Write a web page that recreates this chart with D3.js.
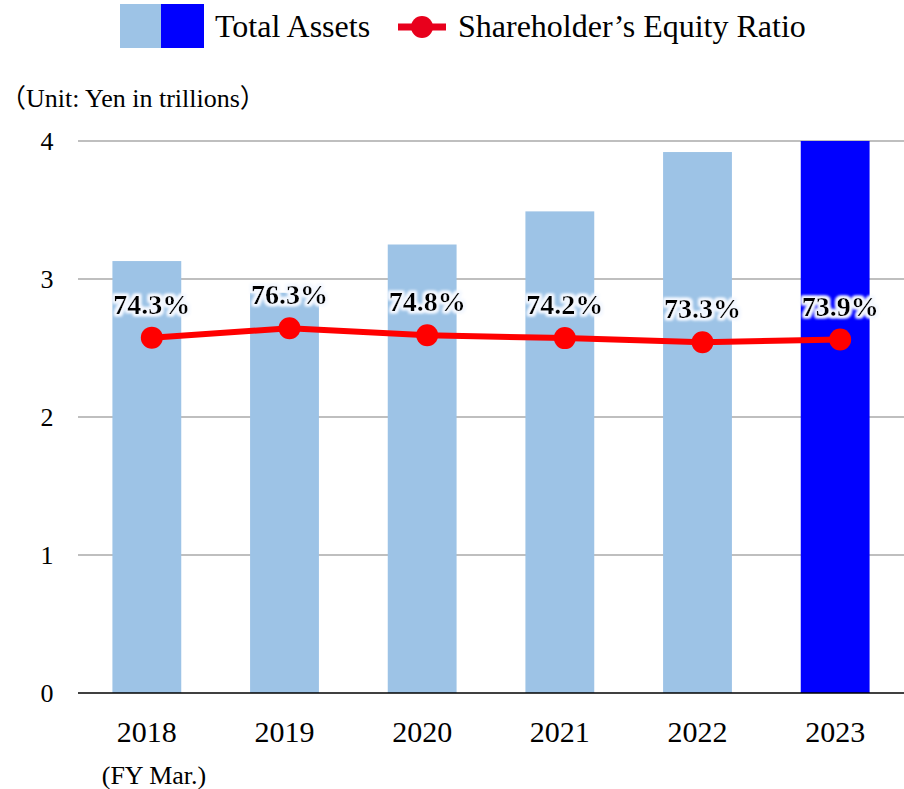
<!DOCTYPE html>
<html>
<head>
<meta charset="utf-8">
<script src="https://cdn.jsdelivr.net/npm/d3@7"></script>
<style>
  body { margin: 0; background: #fff; }
  svg { display: block; font-family: "Liberation Serif", "Times New Roman", serif; }
</style>
</head>
<body>
<div id="chart"></div>
<script>
var years = ["2018", "2019", "2020", "2021", "2022", "2023"];
var totalAssets = [3.13, 2.9, 3.25, 3.49, 3.92, 4.0];
var equityRatio = [74.3, 76.3, 74.8, 74.2, 73.3, 73.9];
var yTicks = [0, 1, 2, 3, 4];

var width = 904, height = 789;
var plotLeft = 78, plotRight = 904, plotTop = 141, plotBottom = 693;
var lineShift = 5; // the line sits a little right of the bar centres

var svg = d3.select("#chart").append("svg")
    .attr("width", width)
    .attr("height", height);

// white halo behind the ratio labels
var defs = svg.append("defs");
var glow = defs.append("filter").attr("id", "glow")
    .attr("x", "-20%").attr("y", "-30%").attr("width", "140%").attr("height", "160%");
glow.append("feMorphology").attr("in", "SourceAlpha").attr("operator", "dilate").attr("radius", 1.5).attr("result", "thick");
glow.append("feGaussianBlur").attr("in", "thick").attr("stdDeviation", 1.8).attr("result", "blur");
glow.append("feFlood").attr("flood-color", "#f4f8ff").attr("flood-opacity", 1);
glow.append("feComposite").attr("in2", "blur").attr("operator", "in").attr("result", "halo");
var merge = glow.append("feMerge");
merge.append("feMergeNode").attr("in", "halo");
merge.append("feMergeNode").attr("in", "halo");
merge.append("feMergeNode").attr("in", "SourceGraphic");

var x = d3.scaleBand()
    .domain(years)
    .range([plotLeft, plotRight])
    .paddingInner(0.5)
    .paddingOuter(0.25);

var y = d3.scaleLinear().domain([0, 4]).range([plotBottom, plotTop]);
// secondary (hidden) axis for the ratio
var y2 = d3.scaleLinear().domain([0, 100]).range([684.4, 217.7]);

// gridlines
svg.append("g").selectAll("line")
    .data(yTicks.filter(function(d) { return d > 0; }))
    .enter().append("line")
    .attr("x1", plotLeft).attr("x2", plotRight)
    .attr("y1", function(d) { return y(d); })
    .attr("y2", function(d) { return y(d); })
    .attr("stroke", "#bfbfbf")
    .attr("stroke-width", 2);

// y tick labels
svg.append("g").selectAll("text")
    .data(yTicks)
    .enter().append("text")
    .attr("x", 47)
    .attr("y", function(d) { return y(d) + 9; })
    .attr("text-anchor", "middle")
    .attr("font-size", 26)
    .attr("fill", "#000")
    .text(function(d) { return d; });

// bars
svg.append("g").selectAll("rect")
    .data(totalAssets)
    .enter().append("rect")
    .attr("x", function(d, i) { return x(years[i]); })
    .attr("width", x.bandwidth())
    .attr("y", function(d) { return y(d); })
    .attr("height", function(d) { return y(0) - y(d); })
    .attr("fill", function(d, i) { return i === years.length - 1 ? "#0000ff" : "#9dc3e6"; });

// baseline
svg.append("line")
    .attr("x1", plotLeft).attr("x2", plotRight)
    .attr("y1", y(0)).attr("y2", y(0))
    .attr("stroke", "#000")
    .attr("stroke-width", 1.5);

// x labels
svg.append("g").selectAll("text")
    .data(years)
    .enter().append("text")
    .attr("x", function(d) { return x(d) + x.bandwidth() / 2; })
    .attr("y", 742)
    .attr("text-anchor", "middle")
    .attr("font-size", 30)
    .text(function(d) { return d; });

svg.append("text")
    .attr("x", 154).attr("y", 784)
    .attr("text-anchor", "middle")
    .attr("font-size", 26)
    .text("(FY Mar.)");

svg.append("text")
    .attr("x", 0).attr("y", 107)
    .attr("font-size", 26)
    .attr("font-family", "'Liberation Serif', 'Noto Sans CJK JP', serif")
    .text("（Unit: Yen in trillions）");

// ratio line
var cx = function(d, i) { return x(years[i]) + x.bandwidth() / 2 + lineShift; };
var line = d3.line()
    .x(cx)
    .y(function(d) { return y2(d); });

svg.append("path")
    .datum(equityRatio)
    .attr("d", line)
    .attr("fill", "none")
    .attr("stroke", "#ff0000")
    .attr("stroke-width", 6);

svg.append("g").selectAll("circle")
    .data(equityRatio)
    .enter().append("circle")
    .attr("cx", cx)
    .attr("cy", function(d) { return y2(d); })
    .attr("r", 11)
    .attr("fill", "#ff0000");

svg.append("g").selectAll("text")
    .data(equityRatio)
    .enter().append("text")
    .attr("x", cx)
    .attr("y", function(d) { return y2(d) - 24; })
    .attr("text-anchor", "middle")
    .attr("font-size", 28)
    .attr("font-weight", "bold")
    .attr("filter", "url(#glow)")
    .text(function(d) { return d.toFixed(1) + "%"; });

// legend
var legend = svg.append("g");
legend.append("rect").attr("x", 120).attr("y", 4).attr("width", 41).attr("height", 44).attr("fill", "#9dc3e6");
legend.append("rect").attr("x", 161).attr("y", 4).attr("width", 43).attr("height", 44).attr("fill", "#0000ff");
legend.append("text").attr("x", 215).attr("y", 37).attr("font-size", 32).text("Total Assets");
legend.append("line").attr("x1", 398).attr("x2", 446).attr("y1", 27).attr("y2", 27)
    .attr("stroke", "#e8001c").attr("stroke-width", 7);
legend.append("circle").attr("cx", 422).attr("cy", 27).attr("r", 11).attr("fill", "#e8001c");
legend.append("text").attr("x", 458).attr("y", 37).attr("font-size", 32).text("Shareholder\u2019s Equity Ratio");
</script>
</body>
</html>
